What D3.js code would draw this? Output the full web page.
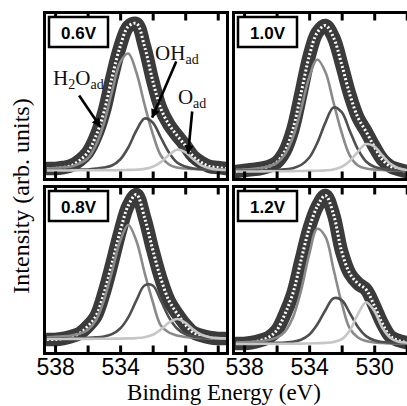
<!DOCTYPE html>
<html>
<head>
<meta charset="utf-8">
<script src="https://cdn.jsdelivr.net/npm/d3@7"></script>
<style>
  body { margin: 0; background: #fff; }
  svg { display: block; }
</style>
</head>
<body>
<div class="chart"></div>
<script>
// Binding energies (eV) shared by every series
const energies = [538.5, 538, 537.5, 537, 536.5, 536, 535.5, 535, 534.5, 534, 533.5, 533,
                  532.5, 532, 531.5, 531, 530.5, 530, 529.5, 529, 528.5, 528, 527.5];

const panelLabels = ['0.6V', '1.0V', '0.8V', '1.2V'];
const tickEnergies = [538, 536, 534, 532, 530, 528];
const labelEnergies = [538, 534, 530];

// 0.6 V
const data06 = [11, 11, 12, 14, 19, 27, 43, 67, 102, 133, 153, 156, 133, 99, 71, 55, 44, 34, 23, 17, 13, 12, 11];
const h2o06 = [11, 11.5, 12, 13, 16, 21, 34, 56, 88, 117, 126, 107, 75, 46, 24, 15, 12, 11, 10.5, 10, 10, 9.5, 9.5];
const oh06 = [9.5, 9.5, 9.6, 9.8, 10, 10, 11, 12, 14, 20, 32, 49, 61, 57, 42, 27, 17, 13, 11, 10.4, 10, 10, 9.7];
const o06 = [9, 9, 9, 9.1, 9.2, 9.2, 9.3, 9.4, 9.3, 9.4, 9.6, 9.8, 10.6, 12.8, 17.4, 24.6, 29.8, 27.4, 20.3, 14.1, 11.2, 10, 9.6];

// 1.0 V
const data10 = [8, 9, 10, 11, 13, 17, 28, 50, 86, 123, 147, 154, 142, 115, 85, 62, 48, 33, 20, 13, 10, 8, 8];
const h2o10 = [9.7, 10, 10.5, 11.4, 13, 16.4, 24.8, 42, 70, 102, 120, 107.5, 77, 47, 24, 14, 11, 10, 9.5, 9, 9, 8.5, 8.5];
const oh10 = [8.6, 8.7, 8.8, 9, 9.2, 9.5, 10.1, 11.3, 14.5, 21.7, 36.6, 56.9, 72, 67.3, 48.6, 30.1, 18, 12.7, 10.6, 9.8, 9.4, 9.1, 8.9];
const o10 = [8, 8, 8, 8.1, 8.2, 8.2, 8.3, 8.4, 8.5, 8.6, 8.7, 9.1, 10, 12.6, 18.5, 27.9, 35.4, 33.2, 24, 15.6, 11.2, 9.5, 8.9];

// 0.8 V
const data08 = [14, 14, 15, 17, 20, 27, 37, 60, 90, 122, 148, 159, 136, 104, 75, 53, 40, 29, 21, 18, 16, 15, 15];
const h2o08 = [16.3, 16.6, 17.1, 18, 19.7, 23.6, 33, 53, 82, 112.5, 128.5, 112.5, 81, 52, 28, 21, 18, 16.5, 16, 15.5, 15.3, 15, 15];
const oh08 = [15, 15, 15.1, 15.3, 15.5, 15.7, 16.1, 17, 19.3, 25, 36.2, 53.1, 68, 68, 53.1, 36.2, 25, 19.3, 17, 16.1, 15.7, 15.5, 15.3];
const o08 = [14.5, 14.5, 14.5, 14.6, 14.6, 14.6, 14.7, 14.7, 14.8, 14.9, 15.1, 15.4, 16.3, 18.7, 23.9, 30.8, 34.5, 30.8, 23.9, 18.7, 16.3, 15.4, 15.1];

// 1.2 V
const data12 = [10, 10, 11, 13, 16, 23, 39, 60, 93, 125, 147, 158, 139, 102, 80, 70, 64, 48, 30, 17, 13, 11, 10];
const h2o12 = [10.9, 11.3, 11.7, 12.3, 13.5, 15.8, 21.7, 36, 62.7, 98.8, 124.7, 116.8, 84.3, 50.5, 25, 16, 12.5, 11, 10.5, 10, 10, 9.8, 9.7];
const oh12 = [9.9, 10, 10, 10.2, 10.3, 10.6, 11, 11.7, 13.8, 18.8, 29, 43.3, 55.2, 53.4, 40.4, 26.5, 17.4, 13.2, 11.5, 10.8, 10.5, 10.3, 10.2];
const o12 = [9.6, 9.6, 9.6, 9.7, 9.7, 9.7, 9.8, 9.8, 9.9, 10, 10.3, 10.6, 11.5, 14.3, 23, 39.3, 51.3, 42.7, 25.8, 15.5, 11.8, 10.8, 10.3];

// Layout
const width = 407;
const height = 406;
const cols = [44.5, 233.5];
const rows = [12.5, 186.5];
const panelW = 183;
const panelH = 167;
const eDomain = [538.65, 527.4];

const colors = { data: '#3b3b3b', h2o: '#8a8a8a', oh: '#4f4f4f', o: '#c6c6c6' };

const panels = [
    { label: panelLabels[0], data: data06, h2o: h2o06, oh: oh06, o: o06 },
    { label: panelLabels[1], data: data10, h2o: h2o10, oh: oh10, o: o10 },
    { label: panelLabels[2], data: data08, h2o: h2o08, oh: oh08, o: o08 },
    { label: panelLabels[3], data: data12, h2o: h2o12, oh: oh12, o: o12 }
];

const svg = d3.select('.chart')
    .append('svg')
    .attr('width', width)
    .attr('height', height)
    .style('background', '#fff');

const defs = svg.append('defs');
defs.append('marker')
    .attr('id', 'arrow')
    .attr('viewBox', '0 0 10 10')
    .attr('refX', 9)
    .attr('refY', 5)
    .attr('markerUnits', 'userSpaceOnUse')
    .attr('markerWidth', 10)
    .attr('markerHeight', 9)
    .attr('orient', 'auto')
    .append('path')
    .attr('d', 'M0,0L10,5L0,10Z')
    .attr('fill', '#000');

panels.forEach((p, i) => {
    const x0 = cols[i % 2];
    const y0 = rows[Math.floor(i / 2)];
    const x = d3.scaleLinear().domain(eDomain).range([x0, x0 + panelW]);
    const y = d3.scaleLinear().domain([0, panelH]).range([y0 + panelH, y0]);

    defs.append('clipPath').attr('id', 'clip' + i)
        .append('rect')
        .attr('x', x0).attr('y', y0)
        .attr('width', panelW).attr('height', panelH);

    const line = d3.line()
        .x((d, j) => x(energies[j]))
        .y(d => y(d))
        .curve(d3.curveCatmullRom);

    const g = svg.append('g').attr('clip-path', `url(#clip${i})`);

    // experimental points: thick band of open circles
    g.append('path').datum(p.data)
        .attr('d', line)
        .attr('fill', 'none')
        .attr('stroke', colors.data)
        .attr('stroke-width', 13.5)
        .attr('stroke-linecap', 'round')
        .attr('stroke-linejoin', 'round');
    g.append('path').datum(p.data)
        .attr('d', line)
        .attr('fill', 'none')
        .attr('stroke', '#fff')
        .attr('stroke-width', 3)
        .attr('stroke-dasharray', '2 2.2');

    // fitted components
    [['h2o', 2.6], ['oh', 2.6], ['o', 2.6]].forEach(([k, w]) => {
        g.append('path').datum(p[k])
            .attr('d', line)
            .attr('fill', 'none')
            .attr('stroke', colors[k])
            .attr('stroke-width', w);
    });

    // inward ticks top and bottom
    const tickStyle = sel => {
        sel.select('.domain').remove();
        sel.selectAll('.tick line').attr('stroke', '#000').attr('stroke-width', 3);
        sel.selectAll('.tick text').remove();
    };
    svg.append('g')
        .attr('transform', `translate(0,${y0 + panelH})`)
        .call(d3.axisBottom(x).tickValues(tickEnergies).tickSizeInner(-8).tickSizeOuter(0))
        .call(tickStyle);
    svg.append('g')
        .attr('transform', `translate(0,${y0})`)
        .call(d3.axisTop(x).tickValues(tickEnergies).tickSizeInner(-8).tickSizeOuter(0))
        .call(tickStyle);

    // frame
    svg.append('rect')
        .attr('x', x0).attr('y', y0)
        .attr('width', panelW).attr('height', panelH)
        .attr('fill', 'none')
        .attr('stroke', '#000')
        .attr('stroke-width', 3);

    // potential label box
    const lg = svg.append('g').attr('transform', `translate(${x0 + 4.5},${y0 + 4.5})`);
    lg.append('rect')
        .attr('width', 59).attr('height', 30)
        .attr('fill', '#fff')
        .attr('stroke', '#000')
        .attr('stroke-width', 2.5);
    lg.append('text')
        .attr('x', 29.5).attr('y', 21.5)
        .attr('text-anchor', 'middle')
        .style('font', 'bold 17px "Liberation Sans", Arial, sans-serif')
        .text(p.label);

    // energy labels under the lower panels
    if (i >= 2) {
        const ax = svg.append('g')
            .attr('transform', `translate(0,${y0 + panelH})`)
            .call(d3.axisBottom(x).tickValues(labelEnergies).tickSize(0).tickPadding(5).tickFormat(d3.format('d')));
        ax.select('.domain').remove();
        ax.selectAll('text')
            .attr('fill', '#000')
            .style('font', '23px "Liberation Sans", Arial, sans-serif');
    }

    // annotations on the first panel
    if (i === 0) {
        const arrows = [
            [536.52, 84, 535.23, 53],
            [530.55, 118, 532.03, 62],
            [529.57, 68, 529.82, 26]
        ];
        svg.append('g').selectAll('line')
            .data(arrows)
            .join('line')
            .attr('x1', d => x(d[0])).attr('y1', d => y(d[1]))
            .attr('x2', d => x(d[2])).attr('y2', d => y(d[3]))
            .attr('stroke', '#000')
            .attr('stroke-width', 2.6)
            .attr('marker-end', 'url(#arrow)');

        const labels = [
            { e: 538.12, h: 95, parts: [['H', 0], ['2', 1], ['O', 0], ['ad', 1]] },
            { e: 531.85, h: 120, parts: [['OH', 0], ['ad', 1]] },
            { e: 530.45, h: 76, parts: [['O', 0], ['ad', 1]] }
        ];
        labels.forEach(l => {
            const t = svg.append('text')
                .attr('x', x(l.e)).attr('y', y(l.h))
                .attr('fill', '#111')
                .style('font-family', '"Liberation Serif", "Times New Roman", serif');
            let prev = 0;
            l.parts.forEach(([s, sub]) => {
                t.append('tspan')
                    .attr('dy', (sub - prev) * 4)
                    .style('font-size', sub ? '14px' : '21px')
                    .text(s);
                prev = sub;
            });
        });
    }
});

// axis titles
svg.append('text')
    .attr('x', 224).attr('y', 400)
    .attr('text-anchor', 'middle')
    .style('font', '23px "Liberation Serif", "Times New Roman", serif')
    .text('Binding Energy (eV)');

svg.append('text')
    .attr('transform', 'rotate(-90)')
    .attr('x', -196).attr('y', 29)
    .attr('text-anchor', 'middle')
    .style('font', '24px "Liberation Serif", "Times New Roman", serif')
    .text('Intensity (arb. units)');
</script>
</body>
</html>
